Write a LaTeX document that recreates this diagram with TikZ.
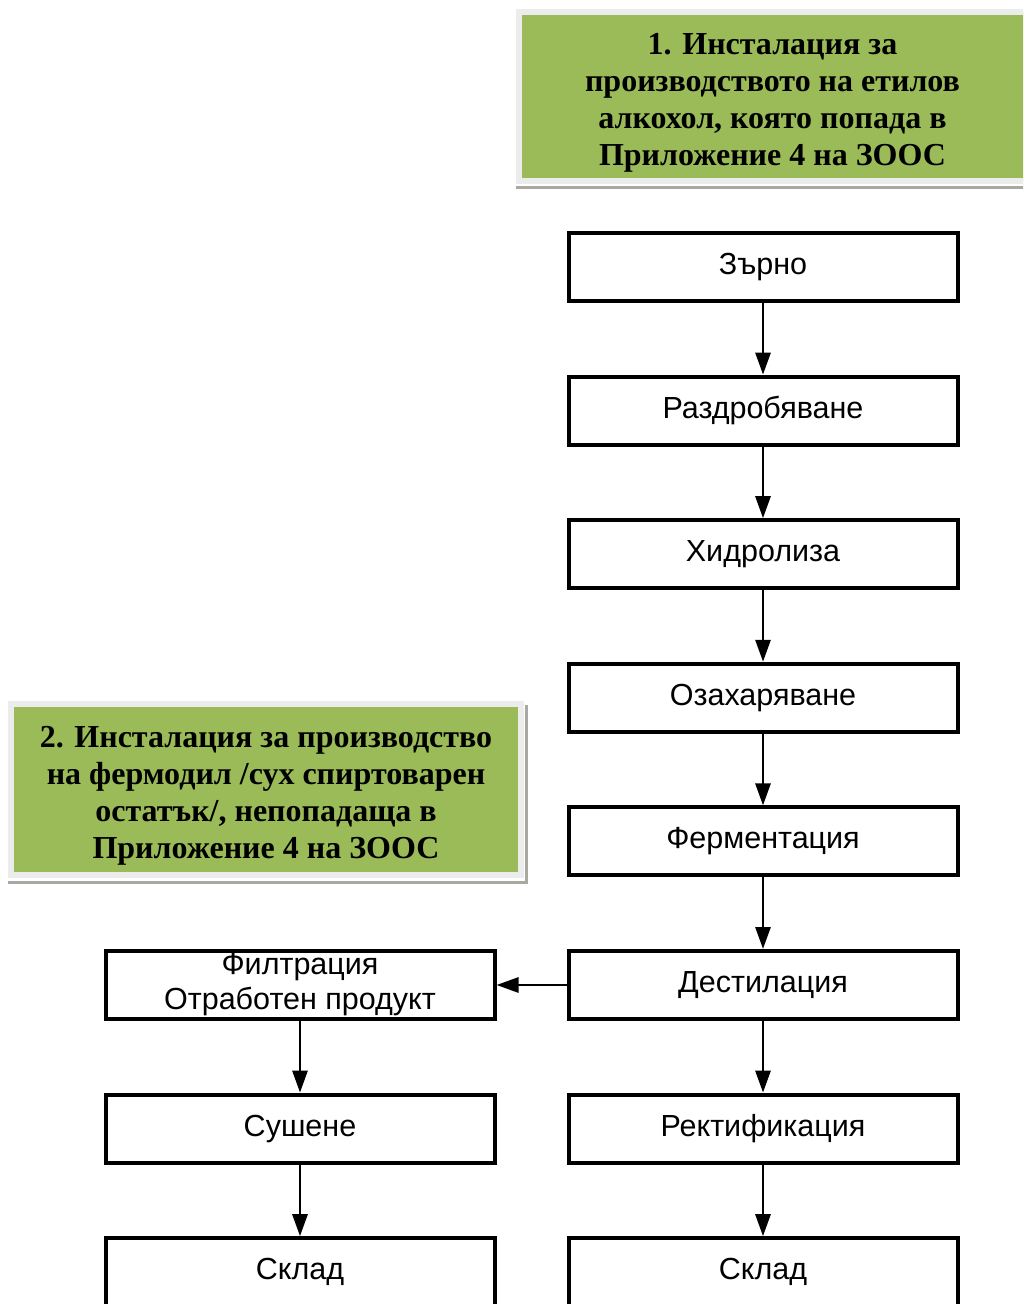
\documentclass[tikz,border=0pt]{standalone}
\usepackage{fontspec}
\setmainfont{Liberation Serif}
\setsansfont{Liberation Sans}
\usetikzlibrary{positioning,arrows.meta}
\definecolor{zoosgreen}{HTML}{9BBB59}
\definecolor{zoosframe}{HTML}{ECECEC}
\definecolor{zoosshade}{HTML}{A9A9A2}
\newcommand{\zoosstrut}{\rule{0pt}{33pt}}
\tikzset{
    every edge/.style={draw,-{Triangle[length=22pt,width=15pt]},line width=2.8pt},
    stage/.style={draw,line width=4pt,fill=white,minimum width=389pt,minimum height=68pt,
        inner sep=2pt,align=center,font=\sffamily\fontsize{30.5}{35}\selectfont},
    zoos/.style={draw=zoosframe,line width=6pt,fill=zoosgreen,align=center,
        font=\bfseries\fontsize{32}{37}\selectfont},
    shade/.style={draw=zoosshade,line width=3pt},
}

\begin{document}
\begin{tikzpicture}[x=1pt,y=-1pt,node distance=71.6pt]
    \clip (0,0) rectangle (1023,1304);
    \fill[white] (0,0) rectangle (1023,1304);

    % main line
    \node[stage] (zarno) at (763,267) {Зърно};
    \node[stage,below=of zarno] (razdr) {Раздробяване};
    \node[stage,below=of razdr] (hidr) {Хидролиза};
    \node[stage,below=of hidr] (ozah) {Озахаряване};
    \node[stage,below=of ozah] (ferm) {Ферментация};
    \node[stage,below=of ferm] (dest) {Дестилация};
    \node[stage,below=of dest] (rekt) {Ректификация};
    \node[stage,below=of rekt] (skladR) {Склад};

    % side line
    \node[stage,left=70pt of dest] (filtr) {Филтрация\\Отработен продукт};
    \node[stage,below=of filtr] (sush) {Сушене};
    \node[stage,below=of sush] (skladL) {Склад};

    % installations
    \node[zoos,minimum width=507pt,minimum height=169pt] (inst1) at (772.5,96.5)
        {\zoosstrut 1. Инсталация за\\производството на етилов\\алкохол, която попада в\\Приложение 4 на ЗООС};
    \node[zoos,minimum width=510pt,minimum height=171pt] (inst2) at (266,789.5)
        {\zoosstrut 2. Инсталация за производство\\на фермодил /сух спиртоварен\\остатък/, непопадаща в\\Приложение 4 на ЗООС};
    \draw[shade] ([yshift=-3pt]inst1.south west) -- ([yshift=-3pt]inst1.south east);
    \draw[shade] ([yshift=-4pt]inst2.south west) -- ([xshift=2pt,yshift=-4pt]inst2.south east)
        -- ([xshift=2pt,yshift=-4pt]inst2.north east);

    \path
    (zarno) edge (razdr)
    (razdr) edge (hidr)
    (hidr) edge (ozah)
    (ozah) edge (ferm)
    (ferm) edge (dest)
    (dest) edge (rekt)
    (rekt) edge (skladR)
    (dest) edge (filtr)
    (filtr) edge (sush)
    (sush) edge (skladL);
\end{tikzpicture}
\end{document}
